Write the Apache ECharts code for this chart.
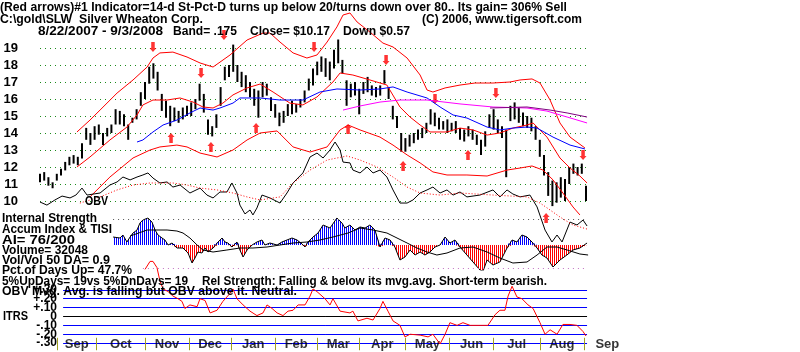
<!DOCTYPE html>
<html>
<head>
<meta charset="utf-8">
<script src="https://cdn.jsdelivr.net/npm/echarts@6/dist/echarts.min.js"></script>
<style>
html, body { margin: 0; padding: 0; background: #fff; }
#main { width: 800px; height: 352px; }
</style>
</head>
<body>
<div id="main"></div>
<script>
// x is the trading-day index from 8/22/2007 (0) to 9/3/2008 (260)

// price bars: [day, high, low]
var bars = [[0,11.6,11.1],[2,11.7,11.2],[4,11.4,10.9],[6,11.1,10.75],[8,11.6,11.2],[10,11.9,11.5],[12,12.3,11.8],[14,12.6,12.1],[16,12.7,12.2],[18,12.6,12.1],[20,13.4,12.5],[22,14.3,13.6],[24,14.0,13.3],[26,14.4,13.6],[28,14.5,13.9],[30,14.0,13.3],[32,14.3,13.8],[34,14.5,14.0],[36,15.4,14.5],[38,15.3,14.5],[40,15.1,14.4],[42,14.5,13.6],[44,14.9,14.6],[46,15.4,14.8],[48,16.4,15.6],[50,17.0,16.0],[52,17.9,16.9],[54,18.1,17.2],[56,17.6,16.5],[58,16.3,15.3],[60,15.9,14.9],[62,15.6,14.4],[64,15.5,14.7],[66,15.3,14.6],[68,15.5,14.8],[70,15.6,15.0],[72,15.8,15.0],[74,16.0,15.4],[76,16.9,15.9],[78,16.3,15.2],[80,14.8,13.9],[82,14.4,13.8],[84,15.1,14.3],[86,16.7,15.6],[88,17.9,17.1],[90,18.0,17.3],[92,19.2,17.6],[94,18.0,17.0],[96,17.6,16.7],[98,17.4,16.4],[100,17.0,16.1],[102,16.6,15.6],[104,16.5,14.9],[106,17.0,16.1],[108,16.9,16.2],[110,16.1,15.3],[112,15.7,14.9],[114,15.2,14.4],[116,15.3,14.6],[118,15.7,15.0],[120,15.9,15.1],[122,15.7,15.2],[124,16.0,15.5],[126,16.5,15.8],[128,17.2,16.5],[130,17.8,16.8],[132,18.2,17.4],[134,18.5,17.6],[136,18.4,17.3],[138,18.2,17.1],[140,18.9,17.8],[142,19.5,18.1],[144,18.3,17.5],[146,17.1,15.6],[148,16.9,16.1],[150,17.0,16.2],[152,16.6,15.1],[154,17.0,16.3],[156,17.3,16.4],[158,16.8,16.2],[160,16.7,16.1],[162,16.8,16.2],[164,17.7,16.9],[166,16.7,16.0],[168,15.6,14.8],[170,15.0,14.3],[172,14.0,12.9],[174,13.7,12.9],[176,13.9,13.2],[178,14.0,13.4],[180,14.2,13.6],[182,14.3,13.7],[184,14.6,14.0],[186,15.4,14.5],[188,15.2,14.4],[190,14.9,14.2],[192,14.7,14.2],[194,14.8,14.0],[196,14.6,14.1],[198,14.7,14.0],[200,14.3,13.6],[202,14.2,13.5],[204,14.4,13.8],[206,14.2,13.6],[208,13.9,13.3],[210,13.6,12.7],[212,14.1,13.2],[214,15.1,14.3],[216,15.4,14.2],[218,14.8,14.0],[220,14.4,13.7],[222,14.2,11.4],[224,15.6,14.7],[226,15.8,14.8],[228,15.5,14.6],[230,15.2,14.4],[232,15.0,14.3],[234,14.9,14.1],[236,14.4,13.6],[238,13.6,12.6],[240,12.7,11.5],[242,11.7,10.3],[244,11.2,9.7],[246,11.1,9.9],[248,11.4,10.2],[250,11.3,10.0],[252,12.0,11.0],[254,12.2,11.6],[256,12.0,11.5],[258,12.2,11.6],[260,10.9,10.0]];

var upperBand = [[17.6,14.06],[23.8,14.76],[28.6,15.35],[36.7,16.35],[44.3,17.12],[51,17.88],[53.8,18.41],[57.1,18.71],[63.3,18.76],[70,18.47],[76.2,18.12],[82.4,17.88],[90.5,18.59],[98.6,19.47],[106.2,19.88],[109.5,19.88],[114.3,19.35],[120.5,18.71],[127.1,18.41],[131.9,18.59],[136.7,19.35],[141.4,20.24],[144.3,20.94],[147.6,21.06],[151,20.53],[157.1,19.94],[163.3,19.29],[168.1,19.06],[174.8,18.41],[181,17.41],[184.3,16.53],[187.1,16.41],[192.9,16.65],[200,16.82],[207.1,16.94],[215.7,16.94],[223.8,17.0],[228.6,17.12],[234.3,17.18],[238.1,16.94],[242.9,15.94],[247.6,14.59],[252.4,13.76],[259.5,13.12]];

var midBand = [[17.6,12.0],[23.8,12.59],[33.3,13.59],[41.4,14.35],[46.2,15.06],[49,15.65],[53.8,15.94],[60.5,15.94],[66.7,16.06],[72.9,15.82],[77.6,15.53],[82.4,15.47],[87.1,15.76],[91.9,16.24],[98.6,16.65],[104.8,16.88],[111,16.41],[119,15.76],[125.2,15.65],[131.9,16.12],[139.5,17.0],[142.9,17.53],[149,17.41],[157.1,17.12],[165.2,16.82],[171.4,15.53],[176.2,14.94],[181,14.47],[185.7,14.06],[193.8,14.06],[200,14.29],[206.2,14.18],[212.9,13.88],[219,14.0],[225.2,14.29],[231.9,14.47],[234.8,14.59],[241.4,13.76],[247.6,12.53],[252.4,11.94],[257.1,11.47],[260.5,11.06]];

var lowerBand = [[23.8,10.24],[33.3,11.41],[44.3,12.53],[52.4,13.0],[57.1,13.18],[65.2,13.29],[70,13.18],[76.2,12.82],[84.3,12.59],[91.9,13.0],[98.6,13.59],[104.8,14.0],[112.9,14.12],[120.5,13.18],[128.6,12.88],[136.7,13.18],[142.9,14.18],[146.7,14.47],[152.4,14.18],[161.9,13.76],[168.1,13.29],[174.8,12.71],[181,12.24],[187.1,11.71],[193.8,11.53],[203.3,11.53],[212.9,11.47],[222.4,11.82],[228.6,11.94],[234.3,12.06],[239.5,11.82],[244.3,11.24],[249,10.47],[253.8,9.65],[257.1,9.18]];

var ma50 = [[46.2,13.47],[49,13.59],[53.8,14.06],[58.6,14.47],[65.2,14.76],[71.4,15.18],[76.2,15.47],[82.4,15.35],[85.7,15.47],[91.9,15.76],[95.2,16.06],[104.8,16.06],[114.3,15.94],[125.2,15.94],[133.3,16.41],[141.4,16.59],[152.4,16.53],[161.9,16.59],[168.1,16.71],[174.8,16.41],[184.3,16.06],[190.5,15.53],[196.7,15.06],[203.3,14.88],[212.9,14.35],[219,14.18],[225.2,14.29],[231.9,14.35],[236.7,14.29],[244.3,13.76],[252.4,13.29],[259.5,13.06]];

var ma150 = [[144.3,15.35],[152.4,15.59],[161.9,15.82],[171.4,15.94],[184.3,15.94],[200,15.71],[215.7,15.53],[231.9,15.47],[241.4,15.29],[251,14.94],[260.5,14.59]];

var ma200 = [[214.3,15.47],[231.9,15.53],[242.9,15.35],[251,15.18],[260.5,14.94]];

// OBV and its average, drawn on the price scale
var obv = [[0,9.94],[3.3,9.76],[7.1,10.06],[10.5,10.29],[14.3,10.18],[17.1,10.35],[20,10.76],[22.4,10.35],[28.6,10.47],[33.3,10.94],[36.7,11.12],[39.5,11.41],[42.9,11.24],[46.2,11.41],[49,11.53],[51.4,11.65],[53.8,11.35],[57.1,11.06],[60.5,11.12],[63.3,10.82],[66.7,10.94],[71.4,10.47],[76.2,10.76],[79.5,10.35],[82.4,10.18],[85.7,10.53],[89,10.53],[91.4,11.06],[93.8,10.47],[95.2,9.76],[97.6,9.24],[100,9.47],[101.4,9.18],[103.3,9.59],[105.7,10.35],[109.5,10.18],[114.3,9.88],[117.6,10.47],[120.5,11.06],[125.2,11.65],[128.6,12.59],[131.9,12.82],[134.8,12.53],[138.1,13.0],[140.5,13.47],[142.9,13.0],[144.3,12.29],[147.6,12.24],[149,11.82],[152.4,11.65],[155.7,12.0],[158.6,11.65],[161.9,11.82],[165.2,11.41],[168.1,10.65],[171.4,9.88],[174.8,9.88],[177.6,10.06],[181,10.47],[184.3,10.65],[187.1,10.82],[190.5,10.47],[193.8,10.65],[196.7,10.35],[200,10.53],[203.3,10.24],[209.5,10.35],[215.7,10.65],[219,10.24],[222.4,10.65],[225.2,10.41],[228.6,10.24],[233.3,10.35],[236.7,9.65],[240.5,8.29],[243.8,7.59],[246.2,8.0],[248.6,7.59],[252.4,8.76],[255.7,8.59],[258.6,8.88],[260.5,8.53]];

var obvAvg = [[19,9.88],[28.6,10.24],[36.7,10.65],[44.3,10.94],[52.4,11.06],[63.3,11.06],[70,10.94],[76.2,10.76],[84.3,10.65],[91.9,10.47],[98.6,10.24],[104.8,10.06],[114.3,10.24],[120.5,11.06],[128.6,11.82],[136.7,12.41],[146.2,12.65],[152.4,12.41],[160.5,12.0],[168.1,11.41],[174.8,10.82],[181,10.47],[190.5,10.35],[200,10.47],[215.7,10.35],[231.9,10.24],[238.1,9.88],[242.9,9.47],[247.6,9.06],[253.8,8.59],[260.5,8.35]];

// signal arrows: [day, price]
var sellArrows = [[53.8,19.06],[76.7,17.53],[87.6,19.76],[130.5,19.06],[164.8,18.29],[188.1,16.0],[217.1,16.35],[258.6,12.71]];
var buyArrows = [[62.4,13.71],[81.4,13.18],[102.9,14.29],[146.7,14.24],[172.9,12.06],[203.8,12.71],[241,9.0]];

// accumulation index and its average
var accumIndex = [[34.8,8],[38.1,7],[39.5,10],[41.4,3],[42.9,8],[44.3,12],[46.2,15],[47.6,22],[49,25],[51.4,27],[53.3,23],[54.8,15],[56.2,10],[58.1,7],[59.5,5],[61,0],[62.9,2],[65.2,-3],[68.1,-3],[70.5,-8],[72.4,-18],[73.8,-13],[75.2,-7],[77.1,-8],[78.6,-3],[80,-7],[82.4,-3],[84.8,3],[86.7,7],[88.1,3],[89.5,2],[91.4,-2],[93.8,3],[95.2,-5],[96.7,-12],[98.6,-5],[101,0],[103.3,3],[105.7,5],[107.1,0],[109.5,2],[112.9,0],[115.2,3],[117.6,5],[120,7],[122.4,5],[124.8,1],[126.2,-2],[127.6,3],[130,8],[132.4,12],[134.8,20],[138.1,17],[141.4,27],[143.8,22],[145.2,17],[147.6,20],[150,15],[152.4,18],[154.8,17],[157.1,20],[159.5,15],[161.9,-2],[164.3,7],[166.7,5],[169,-2],[171.4,-15],[173.8,-12],[176.2,-5],[178.6,-10],[181,-7],[183.3,-10],[185.7,-7],[188.1,-2],[190.5,0],[192.9,8],[195.2,2],[197.6,5],[200,-2],[203.3,-10],[206.2,-17],[209.5,-25],[211,-26],[212.9,-15],[215.7,-20],[219,-17],[222.4,-3],[224.8,5],[227.1,3],[229.5,10],[231.9,8],[234.3,3],[236.7,-3],[239,-10],[241.4,-13],[244.3,-22],[247.6,-15],[250.9,-10],[253.8,-5],[257.1,-3],[260.5,2]];

var accumAvg = [[42.9,9],[44.3,10],[51,15],[55.7,15],[60.5,15],[65.2,14],[68.1,12],[71.4,7],[74.8,0],[77.6,-5],[82.4,-7],[89,-5],[95.2,-3],[101.4,-3],[108.1,-2],[114.3,0],[120.5,2],[127.1,3],[133.3,5],[139.5,8],[146.7,12],[152.4,17],[158.6,15],[165.2,12],[170,7],[174.8,2],[179.5,-3],[184.3,-7],[189,-10],[193.8,-8],[200,-3],[206.2,-2],[212.9,-7],[219,-13],[225.2,-18],[231.9,-17],[236.7,-10],[241.4,-2],[246.2,-2],[251,-5],[257.1,-9],[261,-10]];

// ITRS (relative strength)
var itrs = [[50,0.53],[52.4,0.62],[53.8,0.62],[55.7,0.55],[57.1,0.40],[58.6,0.31],[61,0.28],[63.3,0.23],[65.7,0.20],[67.6,0.17],[69,0.09],[71.4,0.13],[74.8,0.11],[76.2,0.20],[78.6,0.18],[81,0.04],[84.3,0.07],[87.1,0.17],[90.5,0.26],[91.9,0.31],[93.8,0.20],[96.7,0.13],[100,0.06],[103.3,0.01],[106.2,0.04],[108.1,0.13],[110.5,0.09],[112.9,0.04],[115.7,0.01],[118.1,0.06],[120.5,0.07],[122.9,0.13],[126.2,0.13],[128.6,0.23],[130,0.31],[131.9,0.28],[135.7,0.20],[138.1,0.13],[139.5,0.20],[142.9,0.06],[147.6,0.04],[149,0.06],[151.4,-0.05],[155.7,-0.02],[158.6,-0.04],[161.9,0.09],[163.3,0.17],[165.7,0.06],[168.1,-0.05],[171.4,-0.10],[173.8,-0.23],[176.2,-0.20],[181,-0.21],[184.8,-0.23],[187.1,-0.20],[190.5,-0.31],[192.9,-0.20],[195.2,-0.07],[198.6,-0.10],[201.4,-0.07],[204.8,-0.10],[209.5,-0.10],[213.3,-0.10],[216.7,0.02],[219,0.07],[221.4,0.07],[222.9,0.23],[224.8,0.34],[227.1,0.22],[229.5,0.20],[232.4,0.13],[234.8,0.09],[238.1,-0.07],[240.5,-0.20],[242.9,-0.15],[246.2,-0.20],[249,-0.09],[252.4,-0.09],[255.7,-0.10],[258.6,-0.17],[260,-0.22]];
var itrsLevels = [0.3, 0.2, 0.1, 0, -0.1, -0.2, -0.3];

// months
var monthStarts = [8, 27, 50, 71, 91, 112, 132, 152, 174, 195, 216, 238, 259];
var monthNames = ['Sep','Oct','Nov','Dec','Jan','Feb','Mar','Apr','May','Jun','Jul','Aug','Sep'];

var FONT = 'bold 12px "Liberation Sans", Arial, sans-serif';
var ctx = document.createElement('canvas').getContext('2d');
ctx.font = FONT;

function txt(s, x, y, right) {
  var w = ctx.measureText(s).width;
  return {
    type: 'text', x: x, y: y, z: 100,
    scaleX: right ? (right - x) / w : 1,
    style: { text: s, font: FONT, fill: '#000', align: 'left', verticalAlign: 'middle' }
  };
}

function stripes(color) {
  var c = document.createElement('canvas');
  c.width = 2; c.height = 1;
  var g = c.getContext('2d');
  g.fillStyle = color;
  g.fillRect(0, 0, 1, 1);
  return { image: c, repeat: 'repeat' };
}

function line(data, color, extra) {
  var s = {
    type: 'line', data: data, xAxisIndex: 0, yAxisIndex: 0,
    symbol: 'none', clip: false, silent: true,
    lineStyle: { color: color, width: 1 }
  };
  for (var k in extra) s[k] = extra[k];
  return s;
}

var monthLabels = monthNames.map(function (m, i) {
  if (i === monthNames.length - 1) {
    return { value: [264.5, -0.31, m], label: { align: 'left' } };
  }
  return { value: [(monthStarts[i] + monthStarts[i + 1]) / 2, -0.31, m] };
});

var xAx = function (i) {
  return { type: 'value', gridIndex: i, min: 0, max: 261, show: false };
};

var chart = echarts.init(document.getElementById('main'));
chart.setOption({
  animation: false,
  backgroundColor: '#fff',
  grid: [
    { left: 40, width: 548.1, top: 48, height: 153 },
    { left: 40, width: 548.1, top: 210, height: 60 },
    { left: 40, width: 548.1, top: 254.3, height: 100.9 }
  ],
  xAxis: [xAx(0), xAx(1), xAx(2)],
  yAxis: [
    {
      type: 'value', gridIndex: 0, min: 10, max: 19, interval: 1,
      axisLine: { show: false }, axisTick: { show: false },
      axisLabel: { margin: 22, color: '#000', fontWeight: 'bold', fontSize: 13, fontFamily: 'Liberation Sans' },
      splitLine: { show: true, lineStyle: { color: '#1a8a1a', type: [1, 4], width: 1 } }
    },
    {
      type: 'value', gridIndex: 1, min: -25, max: 35, show: false
    },
    {
      type: 'value', gridIndex: 2, min: -0.4, max: 0.7, interval: 0.1,
      axisLine: { show: false }, axisTick: { show: false }, splitLine: { show: false },
      axisLabel: {
        margin: -17, color: '#000', fontWeight: 'bold', fontSize: 12, fontFamily: 'Liberation Sans',
        formatter: function (v) {
          var r = Math.round(v * 10);
          if (Math.abs(r) > 3) return '';
          if (r === 0) return '0';
          return (r > 0 ? '+' : '-') + '.' + Math.abs(r) + '0';
        }
      }
    }
  ],
  series: [
    {
      type: 'custom', xAxisIndex: 0, yAxisIndex: 0, clip: false, silent: true,
      data: bars,
      encode: { x: 0, y: [1, 2] },
      renderItem: function (params, api) {
        var hi = api.coord([api.value(0), api.value(1)]);
        var lo = api.coord([api.value(0), api.value(2)]);
        return {
          type: 'line',
          shape: { x1: hi[0], y1: hi[1], x2: lo[0], y2: lo[1] },
          style: { stroke: '#000', lineWidth: 2 }
        };
      }
    },
    line(upperBand, '#ff0000'),
    line(midBand, '#ff0000'),
    line(lowerBand, '#ff0000'),
    line(ma50, '#0000ff'),
    line(ma150, '#ff00ff'),
    line(ma200, '#800080'),
    line(obv, '#000000'),
    line(obvAvg, '#ff0000', { lineStyle: { color: '#ff0000', width: 1, type: [1, 2] } }),
    {
      type: 'scatter', xAxisIndex: 0, yAxisIndex: 0, clip: false, silent: true,
      data: sellArrows,
      symbol: 'path://M2,0H6V6H8L4,10L0,6H2Z', symbolSize: [7, 10],
      itemStyle: { color: '#ff0000' }
    },
    {
      type: 'scatter', xAxisIndex: 0, yAxisIndex: 0, clip: false, silent: true,
      data: buyArrows,
      symbol: 'path://M4,0L8,4H6V10H2V4H0Z', symbolSize: [7, 10],
      itemStyle: { color: '#ff0000' }
    },
    {
      type: 'line', xAxisIndex: 1, yAxisIndex: 1, symbol: 'none', silent: true,
      data: accumIndex.map(function (p) { return [p[0], Math.max(p[1], 0)]; }),
      lineStyle: { width: 0 },
      areaStyle: { color: stripes('#0000ff'), opacity: 1 }
    },
    {
      type: 'line', xAxisIndex: 1, yAxisIndex: 1, symbol: 'none', silent: true,
      data: accumIndex.map(function (p) { return [p[0], Math.min(p[1], 0)]; }),
      lineStyle: { width: 0 },
      areaStyle: { color: stripes('#ff0000'), opacity: 1 }
    },
    {
      type: 'line', xAxisIndex: 1, yAxisIndex: 1, symbol: 'none', silent: true,
      data: accumIndex,
      lineStyle: { color: '#000', width: 1 },
      markLine: {
        symbol: 'none', silent: true, label: { show: false },
        data: [
          [{ coord: [34.8, 25.5], lineStyle: { color: '#555', type: [1, 4] } }, { coord: [260.5, 25.5] }],
          [{ coord: [49, -23], lineStyle: { color: '#c070c0', type: [1, 4] } }, { coord: [260.5, -23] }]
        ]
      }
    },
    {
      type: 'line', xAxisIndex: 1, yAxisIndex: 1, symbol: 'none', silent: true,
      data: accumAvg,
      lineStyle: { color: '#000', width: 1 }
    },
    {
      type: 'line', xAxisIndex: 2, yAxisIndex: 2, symbol: 'none', silent: true, clip: false, z: 5,
      data: itrs,
      lineStyle: { color: '#ff0000', width: 1 },
      markLine: {
        symbol: 'none', silent: true, label: { show: false }, z: 1,
        data: itrsLevels.map(function (v) {
          return [
            { coord: [11, v], lineStyle: { color: v === 0 ? '#000' : '#0000ff', width: 1, type: 'solid' } },
            { coord: [260.5, v] }
          ];
        })
      }
    },
    {
      type: 'scatter', xAxisIndex: 2, yAxisIndex: 2, silent: true, clip: false,
      symbolSize: 0,
      data: monthLabels,
      label: {
        show: true, position: 'inside', color: '#000',
        fontWeight: 'bold', fontSize: 13, fontFamily: 'Liberation Sans',
        formatter: function (p) { return p.value[2]; }
      },
      markLine: {
        symbol: 'none', silent: true, label: { show: false },
        lineStyle: { color: '#a0a020', width: 1, type: 'solid' },
        data: monthStarts.map(function (d) {
          return [{ coord: [d, -0.24] }, { coord: [d, -0.38] }];
        })
      }
    }
  ],
  graphic: [
    txt('(Red arrows)#1 Indicator=14-d St-Pct-D turns up below 20/turns down over 80.. Its gain= 306% Sell', 0, 8, 567),
    txt('C:\\gold\\SLW  Silver Wheaton Corp.', 0, 20, 203),
    txt('(C) 2006, www.tigersoft.com', 422, 20, 582),
    txt('8/22/2007 - 9/3/2008', 38, 32, 163),
    txt('Band= .175', 173, 32, 237),
    txt('Close= $10.17', 250, 32, 330),
    txt('Down $0.57', 343, 32, 410),
    txt('OBV', 85, 202, 108),
    txt('Internal Strength', 2, 219, 97),
    txt('Accum Index & TISI', 2, 230, 112),
    txt('AI= 76/200', 2, 241, 75),
    txt('Volume= 32048', 2, 251, 88),
    txt('Vol/Vol 50 DA= 0.9', 2, 261, 110),
    txt('Pct.of Days Up= 47.7%', 2, 271, 132),
    txt('5%UpDays= 19vs 5%DnDays= 19', 2, 282, 188),
    txt('Rel Strength: Falling & below its mvg.avg. Short-term bearish.', 202, 282, 547),
    txt('OBV Mvg. Avg. is falling but OBV above it. Neutral.', 2, 292, 297),
    txt('ITRS', 3, 317, 28)
  ]
});
</script>
</body>
</html>
